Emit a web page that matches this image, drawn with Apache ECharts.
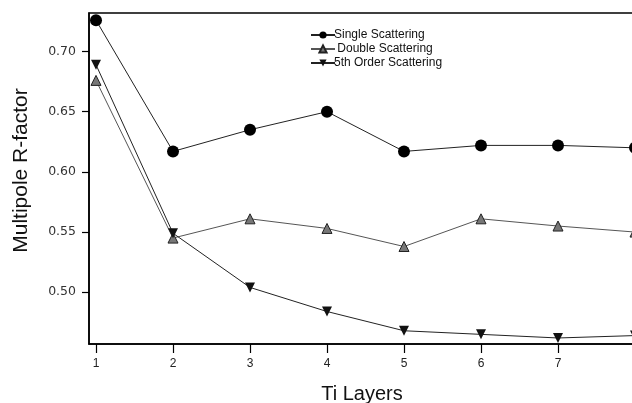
<!DOCTYPE html>
<html><head><meta charset="utf-8">
<script src="https://cdn.jsdelivr.net/npm/echarts@6/dist/echarts.min.js"></script>
<style>html,body{margin:0;padding:0;background:#fff}#c{width:632px;height:403px}</style>
</head><body><div id="c"></div>
<script>
const layers = [1, 2, 3, 4, 5, 6, 7, 8];
const singleScattering = [0.726, 0.617, 0.635, 0.650, 0.617, 0.622, 0.622, 0.620];
const doubleScattering = [0.676, 0.545, 0.561, 0.553, 0.538, 0.561, 0.555, 0.550];
const fifthOrderScattering = [0.689, 0.549, 0.504, 0.484, 0.468, 0.465, 0.462, 0.464];
const xTicks = [1, 2, 3, 4, 5, 6, 7];
const yTicks = [0.50, 0.55, 0.60, 0.65, 0.70];
const seriesNames = ['Single Scattering', ' Double Scattering', '5th Order Scattering'];

const pair = (vals) => layers.map((x, i) => [x, vals[i]]);
const downTri = 'path://M0,0 L10,0 L5,10 Z';
const font = 'Liberation Sans';

const chart = echarts.init(document.getElementById('c'), null, {renderer: 'canvas'});
chart.setOption({
  animation: false,
  backgroundColor: '#fff',
  grid: {left: 89, top: 13, bottom: 59, right: -3, show: true, borderColor: '#000', borderWidth: 1.5,
         containLabel: false, outerBoundsMode: 'none'},
  legend: {
    orient: 'vertical', left: 305, top: 24, itemWidth: 24, itemHeight: 9, itemGap: 2,
    textStyle: {fontFamily: font, fontSize: 12, color: '#111', padding: [0, 0, 0, -6]},
    data: seriesNames
  },
  xAxis: {
    type: 'value', min: 0.909, max: 8,
    name: 'Ti Layers', nameLocation: 'middle', nameGap: 40,
    nameTextStyle: {fontFamily: font, fontSize: 20, color: '#111'},
    splitLine: {show: false},
    axisLine: {show: true, lineStyle: {color: '#000', width: 1.5}},
    axisTick: {show: true, length: 9, customValues: xTicks, lineStyle: {color: '#000', width: 1.2}},
    axisLabel: {customValues: xTicks, fontFamily: font, fontSize: 12, color: '#222', margin: 14}
  },
  yAxis: {
    type: 'value', min: 0.457, max: 0.732,
    name: 'Multipole R-factor', nameLocation: 'middle', nameGap: 57,
    nameTextStyle: {fontFamily: font, fontSize: 21, color: '#111', padding: [0, 0, 0, 16]},
    splitLine: {show: false},
    axisLine: {show: true, lineStyle: {color: '#000', width: 1.5}},
    axisTick: {show: true, length: 7, customValues: yTicks, lineStyle: {color: '#000', width: 1.2}},
    axisLabel: {customValues: yTicks, fontFamily: 'DejaVu Sans', fontSize: 12.5, color: '#333', margin: 13,
      formatter: v => v.toFixed(2)}
  },
  series: [
    {name: seriesNames[0], type: 'line', data: pair(singleScattering), symbol: 'circle', symbolSize: 12,
     itemStyle: {color: '#000'}, lineStyle: {color: '#222', width: 1}, z: 3},
    {name: seriesNames[1], type: 'line', data: pair(doubleScattering), symbol: 'triangle', symbolSize: 10,
     itemStyle: {color: '#777', borderColor: '#222', borderWidth: 1}, lineStyle: {color: '#555', width: 1}, z: 2},
    {name: seriesNames[2], type: 'line', data: pair(fifthOrderScattering), symbol: downTri, symbolSize: 10,
     itemStyle: {color: '#111'}, lineStyle: {color: '#222', width: 1}, z: 2}
  ]
});
</script></body></html>
